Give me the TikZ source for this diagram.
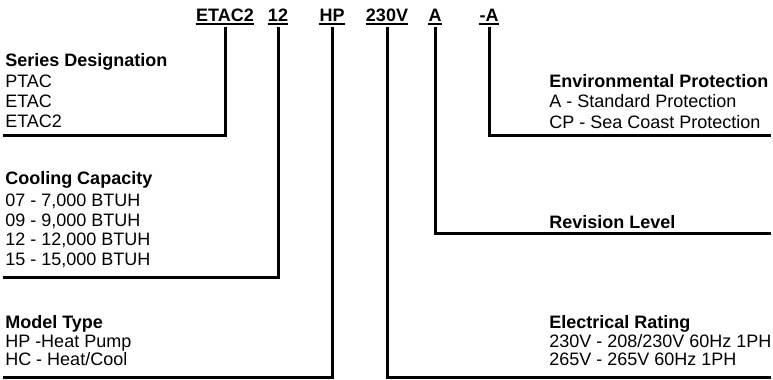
\documentclass[tikz,border=0pt]{standalone}
\usepackage{fontspec}
\setmainfont{Liberation Sans}
\begin{document}
\begin{tikzpicture}[x=0.75pt,y=-0.75pt,
  txt/.style={anchor=base west,inner sep=0pt,font=\fontsize{13.5pt}{15pt}\selectfont},
  hdr/.style={txt,font=\fontsize{13.5pt}{15pt}\selectfont\bfseries},
  code/.style={anchor=base,inner sep=0pt,font=\fontsize{13.5pt}{15pt}\selectfont\bfseries},
  conn/.style={line width=2.25pt,line cap=rect},
  uline/.style={line width=1.5pt}]
\useasboundingbox (0,0) rectangle (773,379);
% top code
\node[code] (c1) at (225,21) {ETAC2};
\node[code] (c2) at (278,21) {12};
\node[code] (c3) at (332,21) {HP};
\node[code] (c4) at (387,21) {230V};
\node[code] (c5) at (435,21) {A};
\node[code] (c6) at (489,21) {-A};
\foreach \n in {c1,c2,c3,c4,c5,c6}{
  \draw[uline] ([yshift=-2.25pt]\n.base west) -- ([yshift=-2.25pt]\n.base east);
}
\coordinate (top) at (0,28);
% left column
\node[hdr] (sd) at (5,66) {Series Designation};
\node[txt] (sd1) at (5,87) {PTAC};
\node[txt] (sd2) at (5,107) {ETAC};
\node[txt] (sd3) at (5,127) {ETAC2};
\node[hdr] (cc) at (5,184) {Cooling Capacity};
\node[txt] (cc1) at (5,206) {07 - 7,000 BTUH};
\node[txt] (cc2) at (5,226) {09 - 9,000 BTUH};
\node[txt] (cc3) at (5,245) {12 - 12,000 BTUH};
\node[txt] (cc4) at (5,265) {15 - 15,000 BTUH};
\node[hdr] (mt) at (5,328) {Model Type};
\node[txt] (mt1) at (5,347) {HP -Heat Pump};
\node[txt] (mt2) at (5,365) {HC - Heat/Cool};
% right column
\node[hdr] (ep) at (549,87) {Environmental Protection};
\node[txt] (ep1) at (549,107) {A - Standard Protection};
\node[txt] (ep2) at (549,128) {CP - Sea Coast Protection};
\node[hdr] (rl) at (549,228) {Revision Level};
\node[hdr] (er) at (549,328) {Electrical Rating};
\node[txt] (er1) at (549,347) {230V - 208/230V 60Hz 1PH};
\node[txt] (er2) at (549,365) {265V - 265V 60Hz 1PH};
% line ends
\coordinate (e1) at (4,135);
\coordinate (e2) at (4,277);
\coordinate (e3) at (4,377);
\coordinate (e4) at (769,377);
\coordinate (e5) at (769,233);
\coordinate (e6) at (769,135);
\draw[conn] (c1.base |- top) |- (e1);
\draw[conn] (c2.base |- top) |- (e2);
\draw[conn] (c3.base |- top) |- (e3);
\draw[conn] (c4.base |- top) |- (e4);
\draw[conn] (c5.base |- top) |- (e5);
\draw[conn] (c6.base |- top) |- (e6);
\end{tikzpicture}
\end{document}
